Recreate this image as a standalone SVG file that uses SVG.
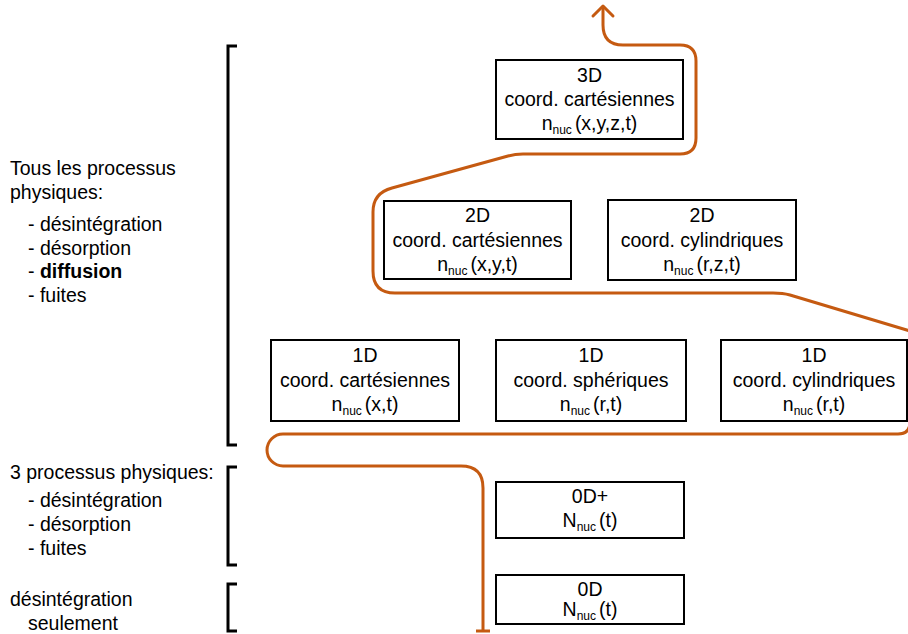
<svg xmlns="http://www.w3.org/2000/svg" width="908" height="634" viewBox="0 0 908 634">
<defs>
<style>
text{font-family:"Liberation Sans",Arial,sans-serif;font-size:19.5px;fill:#000}
.c{text-anchor:middle}
.sub{font-size:12px}
.box{fill:#fff;stroke:#000;stroke-width:2}
.br{fill:none;stroke:#000;stroke-width:3}
.flow{fill:none;stroke:#C55A11;stroke-width:3;stroke-linejoin:round}
</style>
<marker id="arrow" markerUnits="userSpaceOnUse" markerWidth="30" markerHeight="30" viewBox="0 0 30 30" refX="15" refY="15" orient="auto" overflow="visible">
<path d="M5 5 L15 15 L5 25" fill="none" stroke="#C55A11" stroke-width="3" stroke-linecap="round" stroke-linejoin="round"/>
</marker>
<marker id="bar" markerUnits="userSpaceOnUse" markerWidth="30" markerHeight="30" viewBox="0 0 30 30" refX="15" refY="15" orient="auto" overflow="visible">
<path d="M15 8 L15 22" fill="none" stroke="#C55A11" stroke-width="3"/>
</marker>
</defs>
<rect width="908" height="634" fill="#fff"/>

<g id="labels">
<text x="10" y="175">Tous les processus</text>
<text x="10" y="199">physiques:</text>
<text x="28" y="231">- désintégration</text>
<text x="28" y="255">- désorption</text>
<text x="28" y="278">- <tspan font-weight="bold">diffusion</tspan></text>
<text x="28" y="302">- fuites</text>
<text x="10" y="479">3 processus physiques:</text>
<text x="28" y="507">- désintégration</text>
<text x="28" y="531">- désorption</text>
<text x="28" y="555">- fuites</text>
<text x="10" y="606">désintégration</text>
<text x="28" y="630">seulement</text>
</g>

<g id="brackets">
<path class="br" d="M237 46 L228 46 L228 445 L237 445"/>
<path class="br" d="M237 467 L228 467 L228 565 L237 565"/>
<path class="br" d="M237 584 L228 584 L228 631 L237 631"/>
</g>

<g id="connectors">
<path class="flow" marker-start="url(#bar)" marker-end="url(#arrow)" d="M483 631 L483 488 Q483 466 461 466 L283 466 A16 16 0 0 1 283 434 L898 434 Q910 434 910 422 L910 331 L790 295 Q783 293 773 293 L395 293 Q373 293 373 271 L373 212 Q373 193 392 188 L508 156 Q515 154 523 154 L680 154 Q696 154 696 138 L696 61 Q696 45 680 45 L623 45 Q603 45 603 25 L603 6"/>
</g>

<g id="n3d">
<rect class="box" x="496" y="60" width="187" height="79"/>
<text class="c" x="589.5" y="82">3D</text>
<text class="c" x="589.5" y="106">coord. cartésiennes</text>
<text class="c" x="589.5" y="130">n<tspan class="sub" dy="4">nuc</tspan><tspan dy="-4" dx="3">(x,y,z,t)</tspan></text>
</g>

<g id="n2d-cart">
<rect class="box" x="384" y="201" width="187" height="78"/>
<text class="c" x="477.5" y="222">2D</text>
<text class="c" x="477.5" y="247">coord. cartésiennes</text>
<text class="c" x="477.5" y="271">n<tspan class="sub" dy="4">nuc</tspan><tspan dy="-4" dx="3">(x,y,t)</tspan></text>
</g>

<g id="n2d-cyl">
<rect class="box" x="608" y="200" width="188" height="80"/>
<text class="c" x="702" y="222">2D</text>
<text class="c" x="702" y="247">coord. cylindriques</text>
<text class="c" x="702" y="271">n<tspan class="sub" dy="4">nuc</tspan><tspan dy="-4" dx="3">(r,z,t)</tspan></text>
</g>

<g id="n1d-cart">
<rect class="box" x="271" y="340" width="188" height="81"/>
<text class="c" x="365" y="362">1D</text>
<text class="c" x="365" y="387">coord. cartésiennes</text>
<text class="c" x="365" y="411">n<tspan class="sub" dy="4">nuc</tspan><tspan dy="-4" dx="3">(x,t)</tspan></text>
</g>

<g id="n1d-sph">
<rect class="box" x="496" y="340" width="190" height="81"/>
<text class="c" x="591" y="362">1D</text>
<text class="c" x="591" y="387">coord. sphériques</text>
<text class="c" x="591" y="411">n<tspan class="sub" dy="4">nuc</tspan><tspan dy="-4" dx="3">(r,t)</tspan></text>
</g>

<g id="n1d-cyl">
<rect class="box" x="721" y="340" width="186" height="81"/>
<text class="c" x="814" y="362">1D</text>
<text class="c" x="814" y="387">coord. cylindriques</text>
<text class="c" x="814" y="411">n<tspan class="sub" dy="4">nuc</tspan><tspan dy="-4" dx="3">(r,t)</tspan></text>
</g>

<g id="n0d-plus">
<rect class="box" x="496" y="482" width="188" height="56"/>
<text class="c" x="590" y="503">0D+</text>
<text class="c" x="590" y="527">N<tspan class="sub" dy="4">nuc</tspan><tspan dy="-4" dx="3">(t)</tspan></text>
</g>

<g id="n0d">
<rect class="box" x="496" y="575" width="188" height="49"/>
<text class="c" x="590" y="596">0D</text>
<text class="c" x="590" y="616">N<tspan class="sub" dy="4">nuc</tspan><tspan dy="-4" dx="3">(t)</tspan></text>
</g>
</svg>
